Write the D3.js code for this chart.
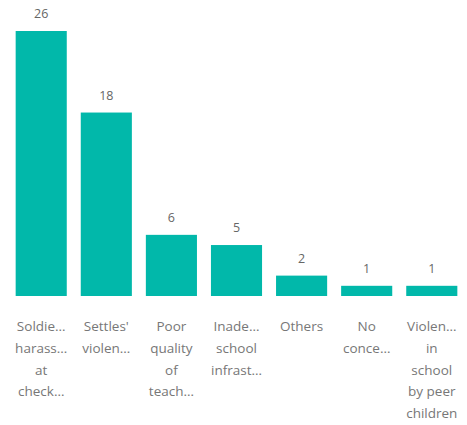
<!DOCTYPE html>
<html><head><meta charset="utf-8">
<script src="https://cdn.jsdelivr.net/npm/d3@7/dist/d3.min.js"></script>
<style>body{margin:0;background:#fff}</style>
</head><body><svg id="c" width="467" height="425"></svg>
<script>
const categories = ["Soldiers' harassment at checkpoints","Settles' violence","Poor quality of teaching","Inadequate school infrastructure","Others","No concern","Violence in school by peer children"];
const labelLines = [["Soldie…","harass…","at","check…"],["Settles'","violen…"],["Poor","quality","of","teach…"],["Inade…","school","infrast…"],["Others"],["No","conce…"],["Violen…","in","school","by peer","children"]];
const values = [26,18,6,5,2,1,1];

const svg = d3.select("#c");
const x = d3.scaleBand().domain(categories).range([8.5,464.5]).paddingInner(0.215).paddingOuter(0.11);
const y = d3.scaleLinear().domain([0,26]).range([296,31]);
const font = "'Open Sans', 'Noto Sans', sans-serif";

svg.selectAll("rect").data(values).join("rect")
  .attr("x",(d,i)=>x(categories[i])).attr("width",x.bandwidth())
  .attr("y",d=>y(d)).attr("height",d=>y(0)-y(d)).attr("fill","#01B8AA");

svg.selectAll("text.v").data(values).join("text").attr("class","v")
  .attr("x",(d,i)=>x(categories[i])+x.bandwidth()/2).attr("y",d=>y(d)-13)
  .attr("text-anchor","middle").attr("font-family",font).attr("font-size",12.5)
  .attr("fill","#666").text(d=>d);

const g = svg.selectAll("text.c").data(labelLines).join("text").attr("class","c")
  .attr("text-anchor","middle").attr("font-family",font).attr("font-size",13.5).attr("fill","#777");
g.each(function(lines,i){
  const t=d3.select(this);
  lines.forEach((l,j)=>t.append("tspan").attr("x",x(categories[i])+x.bandwidth()/2).attr("y",331+j*21.8).text(l));
});
</script></body></html>
